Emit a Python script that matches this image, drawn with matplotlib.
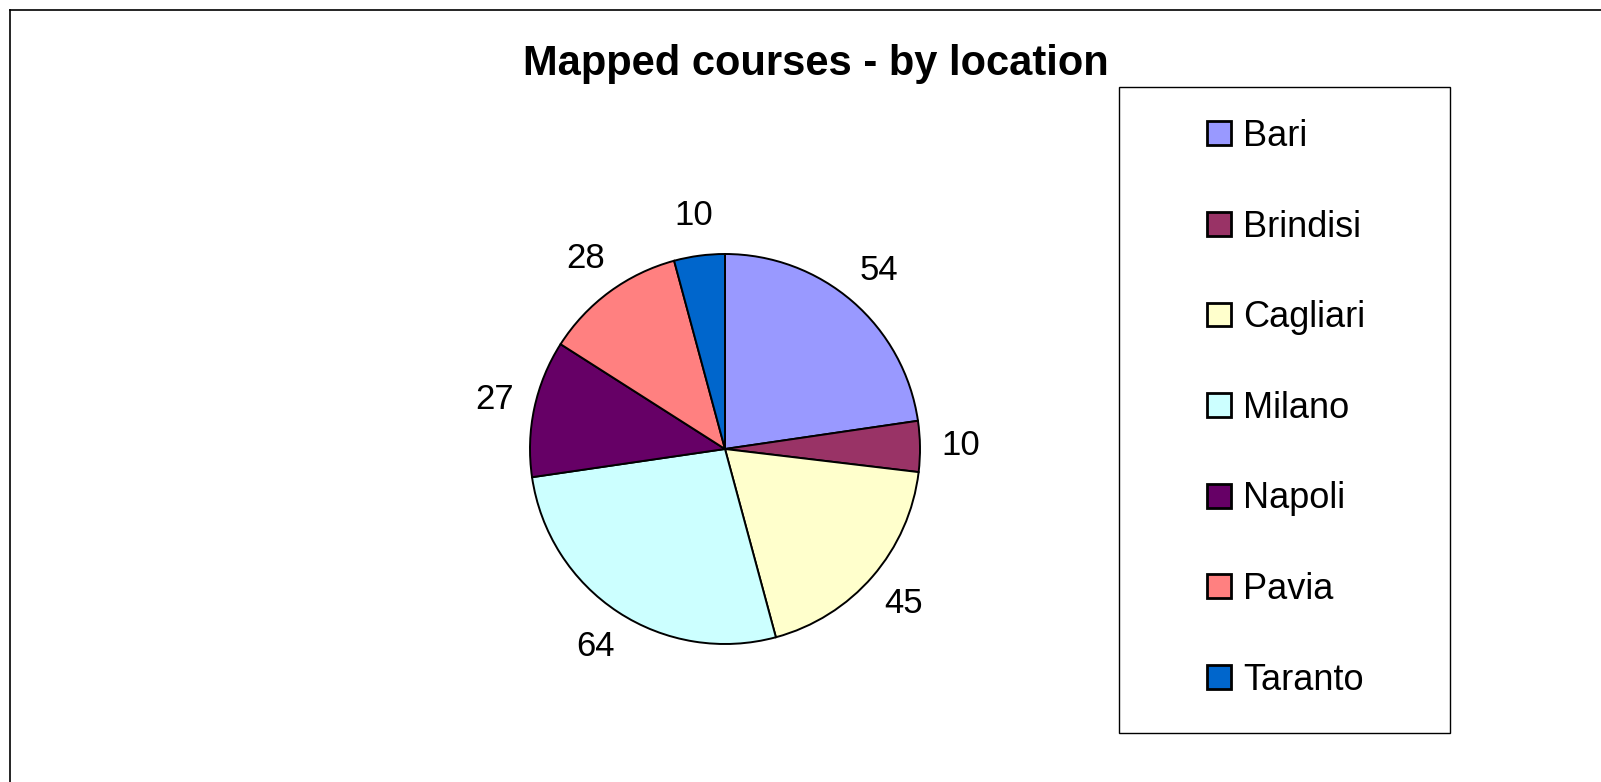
import matplotlib
matplotlib.use("Agg")
import matplotlib.pyplot as plt
from matplotlib.patches import Rectangle
from matplotlib.lines import Line2D

plt.rcParams['font.family'] = ['Liberation Sans', 'DejaVu Sans']

# data
locations = ["Bari", "Brindisi", "Cagliari", "Milano", "Napoli", "Pavia", "Taranto"]
courses = [54, 10, 45, 64, 27, 28, 10]
colors = ["#9999FF", "#993366", "#FFFFCC", "#CCFFFF", "#660066", "#FF8080", "#0066CC"]

W, H = 1601, 782
fig = plt.figure(figsize=(W / 100, H / 100), dpi=100)

# outer frame (only left and top edges visible)
fig.add_artist(Line2D([10 / W, 10 / W], [0, 1 - 10 / H], color="black", lw=1.2,
                      transform=fig.transFigure))
fig.add_artist(Line2D([10 / W, 1], [1 - 10 / H, 1 - 10 / H], color="black", lw=1.2,
                      transform=fig.transFigure))

# pie
cx, cy, r = 725, 449, 195
lim = 1.3
side = 2 * lim * r
ax = fig.add_axes([(cx - side / 2) / W, (H - cy - side / 2) / H, side / W, side / H])
wedges, texts = ax.pie(courses, colors=colors, startangle=90, counterclock=False,
                       labels=[str(v) for v in courses], labeldistance=1.21,
                       wedgeprops=dict(edgecolor="black", linewidth=1.4),
                       textprops=dict(fontsize=25))
for t in texts:
    t.set_ha("center")
    t.set_va("center")
ax.set_xlim(-lim, lim)
ax.set_ylim(-lim, lim)
ax.set_aspect("equal")
ax.axis("off")

fig.text(816 / W, 1 - 75 / H, "Mapped courses - by location", ha="center", va="baseline",
         fontsize=30, fontweight="bold")

# legend box
fig.add_artist(Rectangle((1119 / W, 1 - 733 / H), 331 / W, 646 / H, fill=False,
                         edgecolor="black", lw=1.0, transform=fig.transFigure))
leg = fig.legend(wedges, locations, loc="upper left",
                 bbox_to_anchor=(1207 / W, 1 - 119 / H), frameon=False,
                 fontsize=26, handlelength=0.67, handleheight=0.64,
                 handletextpad=0.33, labelspacing=1.54, borderpad=0,
                 borderaxespad=0)
for p in leg.get_patches():
    p.set_linewidth(2.0)

fig.savefig("out.png", dpi=100)
